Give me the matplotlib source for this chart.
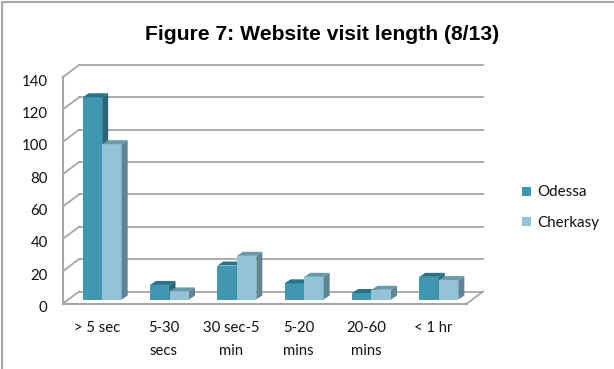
import matplotlib
matplotlib.use('Agg')
import matplotlib.pyplot as plt
from matplotlib.patches import Polygon, Rectangle
from matplotlib.lines import Line2D
from matplotlib.transforms import ScaledTranslation

categories = ['> 5 sec', '5-30\nsecs', '30 sec-5\nmin', '5-20\nmins', '20-60\nmins', '< 1 hr']
odessa = [125, 9, 21, 10, 4, 14]
cherkasy = [96, 5, 27, 14, 6, 12]
yticks = [0, 20, 40, 60, 80, 100, 120, 140]
title = 'Figure 7: Website visit length (8/13)'

W, H = 614, 369
fig = plt.figure(figsize=(W / 100, H / 100), dpi=100)

# front edge of the plot box, everything else hangs off this with clip_on=False
ax = fig.add_axes([63 / W, 1 - 303.5 / H, 404 / W, 226.5 / H])
ax.set_xlim(0, 6)
ax.set_ylim(0, 140)
ax.patch.set_visible(False)
for s in ax.spines.values():
    s.set_visible(False)

# px -> data units for the fake 3d offsets
ux = 6 / 404
uy = 140 / 226.5
wall_dx, wall_dy = 16 * ux, 12 * uy
base_dx, base_dy = 5.5 * ux, 4 * uy
dep_x, dep_y = 6 * ux, 4 * uy
bar_w = 19.5 * ux

grid_c = '#a6a6a6'
for t in yticks:
    ax.plot([0, wall_dx], [t, t + wall_dy], color=grid_c, lw=1.3, clip_on=False, zorder=1)
    ax.plot([wall_dx, 6 + wall_dx], [t + wall_dy, t + wall_dy], color=grid_c, lw=1.3,
            clip_on=False, zorder=1)
ax.plot([0, 0], [0, 140], color=grid_c, lw=1.5, clip_on=False, zorder=1)
ax.plot([0, 6], [0, 0], color=grid_c, lw=1.5, clip_on=False, zorder=1)
ax.plot([6, 6 + wall_dx], [0, wall_dy], color=grid_c, lw=1.3, clip_on=False, zorder=1)


def draw_bar(x, val, front, top, side):
    x0 = x + base_dx
    y0 = base_dy
    ax.bar(x0, val, bar_w, bottom=y0, align='edge', color=front, zorder=3, clip_on=False)
    ax.add_patch(Polygon([(x0, y0 + val), (x0 + bar_w, y0 + val),
                          (x0 + bar_w + dep_x, y0 + val + dep_y), (x0 + dep_x, y0 + val + dep_y)],
                         closed=True, fc=top, ec='none', zorder=3, clip_on=False))
    ax.add_patch(Polygon([(x0 + bar_w, y0), (x0 + bar_w + dep_x, y0 + dep_y),
                          (x0 + bar_w + dep_x, y0 + val + dep_y), (x0 + bar_w, y0 + val)],
                         closed=True, fc=side, ec='none', zorder=3, clip_on=False))


for i in range(len(categories)):
    left = i + 0.5 - bar_w
    draw_bar(left, odessa[i], '#3f97b0', '#2e7186', '#2a6678')
    draw_bar(left + bar_w, cherkasy[i], '#93c3d6', '#6b99a9', '#5f8494')

ax.set_yticks(yticks)
ax.set_xticks([i + 0.5 for i in range(6)])
ax.set_xticklabels(categories, fontfamily='Lato', fontsize=10.7, linespacing=1.8, color='#111111')
ax.tick_params(axis='both', length=0)
ax.tick_params(axis='x', pad=12.5)
ax.tick_params(axis='y', pad=11)
# y labels sit a bit below their gridlines
down = ScaledTranslation(0, -3 / 100, fig.dpi_scale_trans)
for lab in ax.get_yticklabels():
    lab.set_fontfamily('Lato')
    lab.set_fontsize(10.8)
    lab.set_color('#111111')
    lab.set_transform(lab.get_transform() + down)

fig.text(322 / W, 1 - 34.5 / H, title, ha='center', va='center', fontfamily='Liberation Sans',
         fontweight='bold', fontsize=15.2, color='black')

# legend swatches, placed in figure pixels
for name, col, ypos in [('Odessa', '#3f97b0', 191), ('Cherkasy', '#93c3d6', 222)]:
    fig.add_artist(Rectangle((522 / W, 1 - (ypos + 4.5) / H), 9 / W, 9 / H, fc=col, ec='none',
                             transform=fig.transFigure))
    fig.text(537 / W, 1 - (ypos + 1) / H, name, ha='left', va='center', fontfamily='Lato',
             fontsize=10.9, color='#111111')

# chart frame only shows along the top and left
fig.add_artist(Line2D([2 / W, 2 / W], [0, 1 - 2 / H], color='#a8a8a8', lw=1.5,
                      transform=fig.transFigure))
fig.add_artist(Line2D([2 / W, 1], [1 - 2 / H, 1 - 2 / H], color='#a8a8a8', lw=1.5,
                      transform=fig.transFigure))

fig.savefig('out.png', dpi=100)
